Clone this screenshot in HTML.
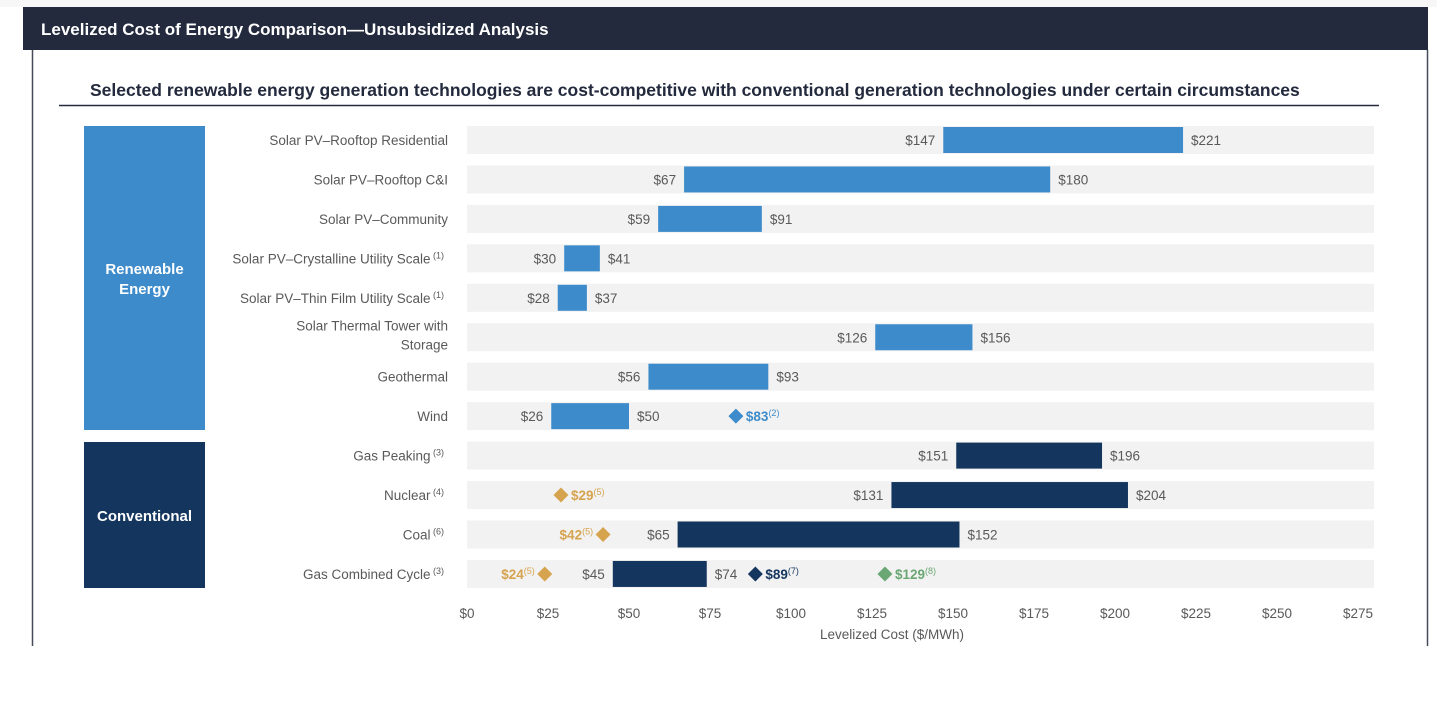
<!DOCTYPE html>
<html><head><meta charset="utf-8"><style>
body{margin:0;background:#fff;width:1437px;height:723px;overflow:hidden;font-family:"Liberation Sans",sans-serif}
svg{display:block}
</style></head><body>
<svg id="chart" width="1437" height="723" xmlns="http://www.w3.org/2000/svg">
<rect x="0" y="0" width="1437" height="7" fill="#f7f7f7"/>
<rect x="23" y="7" width="1405" height="43" fill="#232a3d"/>
<text x="41" y="35" fill="#fff" font-size="17" font-weight="bold">Levelized Cost of Energy Comparison—Unsubsidized Analysis</text>
<line x1="32.5" y1="50" x2="32.5" y2="646" stroke="#444a5a" stroke-width="1.5"/>
<line x1="1427.5" y1="50" x2="1427.5" y2="646" stroke="#444a5a" stroke-width="1.5"/>
<text x="90" y="96" fill="#232a3d" font-size="17.5" font-weight="bold">Selected renewable energy generation technologies are cost-competitive with conventional generation technologies under certain circumstances</text>
<line x1="59" y1="105.5" x2="1379" y2="105.5" stroke="#232a3d" stroke-width="1.5"/>
<rect x="84" y="126" width="121" height="304" fill="#3d8bca"/>
<text x="144.5" y="274" fill="#fff" font-size="15" font-weight="bold" text-anchor="middle"><tspan x="144.5">Renewable</tspan><tspan x="144.5" dy="20">Energy</tspan></text>
<rect x="84" y="442" width="121" height="146" fill="#14365e"/>
<text x="144.5" y="521" fill="#fff" font-size="15" font-weight="bold" text-anchor="middle">Conventional</text>
<g id="plot"></g>
</svg>
<script>
const categories=["Solar PV–Rooftop Residential","Solar PV–Rooftop C&I","Solar PV–Community","Solar PV–Crystalline Utility Scale","Solar PV–Thin Film Utility Scale","Solar Thermal Tower with|Storage","Geothermal","Wind","Gas Peaking","Nuclear","Coal","Gas Combined Cycle"];
const footnotes=["","","","(1)","(1)","","","","(3)","(4)","(6)","(3)"];
const lowValues=[147,67,59,30,28,126,56,26,151,131,65,45];
const highValues=[221,180,91,41,37,156,93,50,196,204,152,74];
const isConventional=[0,0,0,0,0,0,0,0,1,1,1,1];
// markers: [rowIndex, value, note, colorKey, labelSide]
const markerRows=[7,9,10,11,11,11];
const markerValues=[83,29,42,24,89,129];
const markerNotes=["(2)","(5)","(5)","(5)","(7)","(8)"];
const markerColors=["blue","gold","gold","gold","navy","green"];
const markerSides=["right","right","left","left","right","right"];
const ticks=[0,25,50,75,100,125,150,175,200,225,250,275];

const NS="http://www.w3.org/2000/svg";
const g=document.getElementById('plot');
const x0=467,x1=1358,vmax=275;
const xs=v=>x0+(x1-x0)*v/vmax;
const rowY=i=>126+i*39.45;
const rowH=28;
const colors={blue:"#3d8bca",gold:"#d6a34e",navy:"#14365e",green:"#6aa774"};
function el(tag,attrs,text){const e=document.createElementNS(NS,tag);for(const k in attrs)e.setAttribute(k,attrs[k]);if(text!=null)e.textContent=text;g.appendChild(e);return e;}

categories.forEach((c,i)=>{
  const y=rowY(i);
  const bg=el('rect',{x:x0,y:y,width:1374-x0,height:rowH,fill:'#f2f2f2'});
  
  
  const parts=c.split('|');
  const t=el('text',{x:448,y:parts.length>1?y+7:y+19,fill:'#595959','font-size':13.5,'text-anchor':'end'});
  
  
  parts.forEach((p,k)=>{const s=document.createElementNS(NS,'tspan');s.setAttribute('x',448);if(k>0)s.setAttribute('dy',19);s.textContent=p;t.appendChild(s);});
  if(footnotes[i]){const s=document.createElementNS(NS,'tspan');s.setAttribute('font-size',9);s.setAttribute('dy',-5);s.textContent=' '+footnotes[i];t.appendChild(s);t.setAttribute('x',462);t.firstChild.setAttribute('x',462-18);}
  const col=isConventional[i]?colors.navy:colors.blue;
  const b=el('rect',{x:xs(lowValues[i]),y:y+1,width:xs(highValues[i])-xs(lowValues[i]),height:rowH-2,fill:col});
  
  
  const lo=el('text',{x:xs(lowValues[i])-8,y:y+19,fill:'#595959','font-size':13.5,'text-anchor':'end'},'$'+lowValues[i]);
  
  
  const hi=el('text',{x:xs(highValues[i])+8,y:y+19,fill:'#595959','font-size':13.5},'$'+highValues[i]);
  
  
});

markerValues.forEach((v,k)=>{
  const y=rowY(markerRows[k])+rowH/2, x=xs(v), c=colors[markerColors[k]], d=7.5;
  const m=el('polygon',{points:`${x},${y-d} ${x+d},${y} ${x},${y+d} ${x-d},${y}`,fill:c});
  
  
  const right=markerSides[k]==='right';
  const t=el('text',{x:right?x+10:x-10,y:y+5,fill:c,'font-size':13.5,'font-weight':'bold','text-anchor':right?'start':'end'});
  
  
  const a=document.createElementNS(NS,'tspan');a.textContent='$'+v;t.appendChild(a);
  const s=document.createElementNS(NS,'tspan');s.setAttribute('font-size',9);s.setAttribute('font-weight','normal');s.setAttribute('dy',-5);s.textContent=markerNotes[k];t.appendChild(s);
});

ticks.forEach(v=>{
  const t=el('text',{x:xs(v),y:618,fill:'#595959','font-size':13.5,'text-anchor':'middle'},'$'+v);
  
  
});
const at=el('text',{x:892,y:639,fill:'#595959','font-size':13.5,'text-anchor':'middle'},'Levelized Cost ($/MWh)');


</script>
</body></html>
